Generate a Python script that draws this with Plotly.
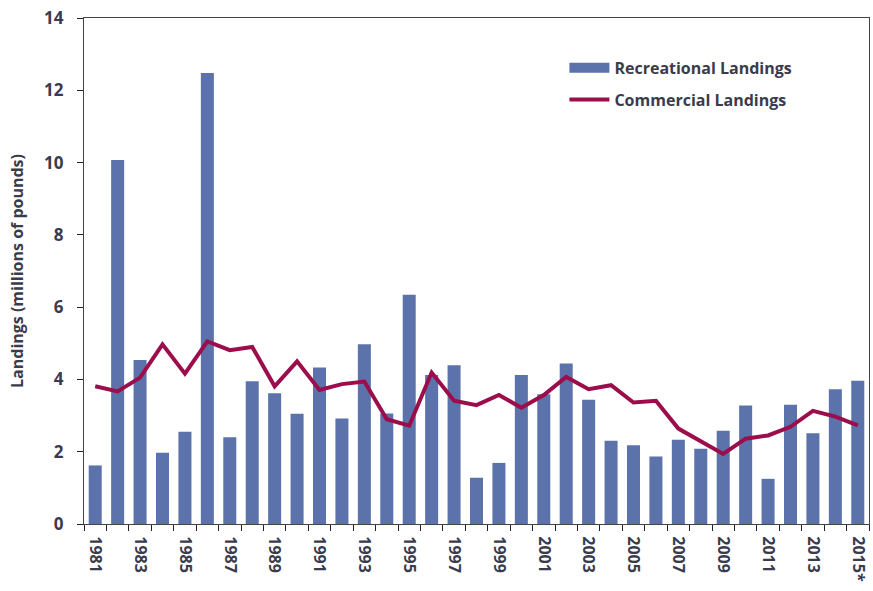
import plotly.graph_objects as go

# Annual landings, millions of pounds
years = [str(y) for y in range(1981, 2015)] + ["2015*"]
recreational = [1.62, 10.07, 4.54, 1.97, 2.55, 12.48, 2.40, 3.95, 3.62, 3.05,
                4.33, 2.92, 4.97, 3.06, 6.34, 4.12, 4.39, 1.28, 1.69, 4.12,
                3.59, 4.44, 3.44, 2.30, 2.18, 1.87, 2.33, 2.08, 2.58, 3.28,
                1.25, 3.30, 2.51, 3.73, 3.96]
commercial = [3.81, 3.67, 4.05, 4.97, 4.16, 5.05, 4.81, 4.90, 3.81, 4.50,
              3.71, 3.87, 3.94, 2.90, 2.72, 4.19, 3.41, 3.29, 3.57, 3.22,
              3.57, 4.07, 3.73, 3.84, 3.36, 3.41, 2.64, 2.30, 1.94, 2.36,
              2.45, 2.69, 3.13, 2.97, 2.73]
# only every other year is labelled on the axis
tick_text = [y if i % 2 == 0 else "" for i, y in enumerate(years)]

text_color = "#3a3b4c"
bar_color = "#5b72aa"
line_color = "#9c0d4c"
font_family = "'Open Sans', sans-serif"

fig = go.Figure()
fig.add_trace(go.Bar(
    x=years, y=recreational, name="Recreational Landings",
    marker=dict(color=bar_color, line=dict(width=0)),
    showlegend=False,
))
# legend-only entry so the bar key shows as a wide block
fig.add_trace(go.Scatter(
    x=[None], y=[None], name="Recreational Landings", mode="lines",
    line=dict(color=bar_color, width=12), legendgroup="rec",
))
fig.add_trace(go.Scatter(
    x=years, y=commercial, name="Commercial Landings", mode="lines",
    line=dict(color=line_color, width=4), legendgroup="com",
))

fig.update_layout(
    width=873, height=591,
    margin=dict(l=84, r=4, t=18, b=67),
    paper_bgcolor="white", plot_bgcolor="white",
    bargap=0.42,
    showlegend=True,
    legend=dict(
        x=0.612, y=0.935, xanchor="left", yanchor="top",
        bgcolor="rgba(0,0,0,0)",
        font=dict(family=font_family, size=16, color=text_color, weight="bold"),
        itemwidth=40, traceorder="grouped", tracegroupgap=8,
    ),
    font=dict(family=font_family, color=text_color),
)

fig.update_xaxes(
    type="category",
    tickmode="array", tickvals=years, ticktext=tick_text,
    tickson="boundaries", ticks="outside", ticklen=6, tickcolor="#222",
    tickangle=90, ticklabelstandoff=8,
    tickfont=dict(family=font_family, size=16, color=text_color, weight="bold"),
    showline=True, linecolor="#444", linewidth=1.2, mirror=True,
    showgrid=False,
)
fig.update_yaxes(
    range=[0, 14], dtick=2,
    ticks="outside", ticklen=6, tickcolor="#222", ticklabelstandoff=10,
    tickfont=dict(family=font_family, size=17, color=text_color, weight="bold"),
    title=dict(text="Landings (millions of pounds)", standoff=16,
               font=dict(family=font_family, size=16, color=text_color, weight="bold")),
    showline=True, linecolor="#444", linewidth=1.2, mirror=True,
    showgrid=False, zeroline=False,
)

fig.write_html("out.html")
